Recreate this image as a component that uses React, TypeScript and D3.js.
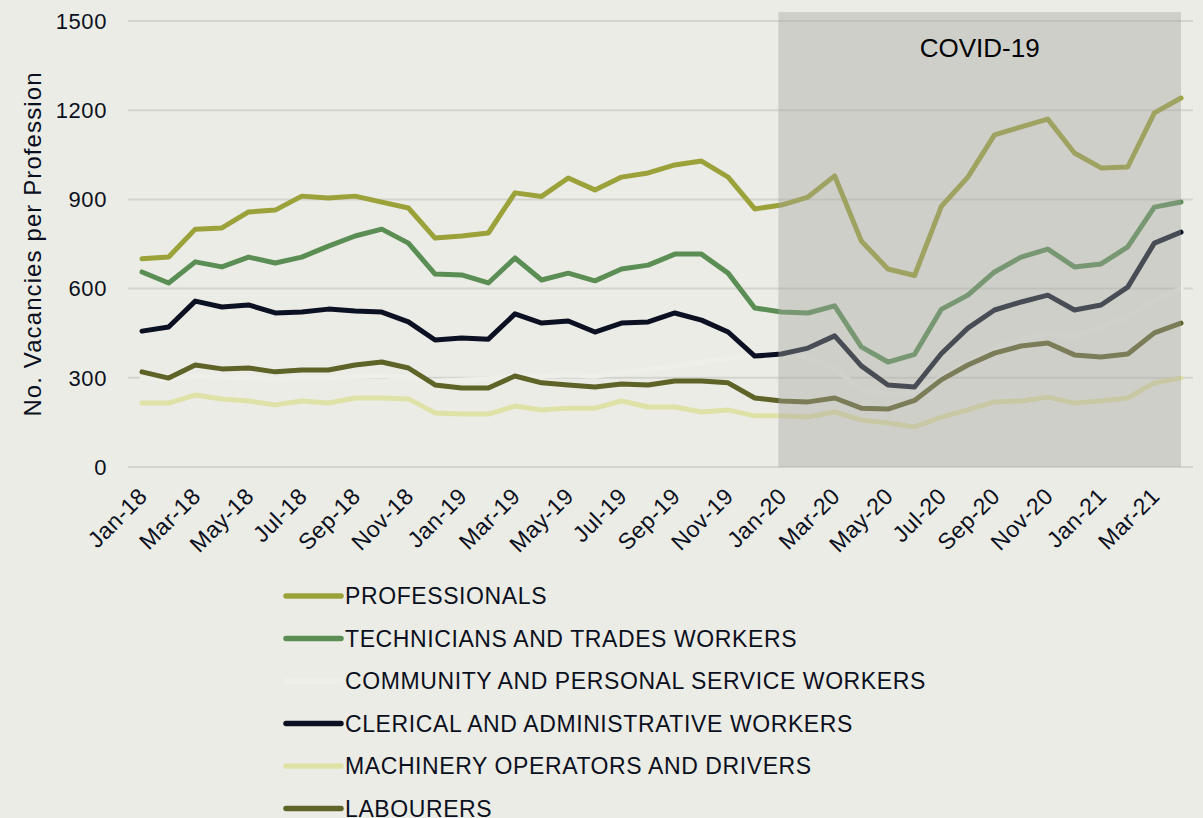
import * as d3 from 'd3';

const months = [
  "Jan-18", "Feb-18", "Mar-18", "Apr-18", "May-18", "Jun-18", "Jul-18", "Aug-18", "Sep-18", "Oct-18", "Nov-18", "Dec-18",
  "Jan-19", "Feb-19", "Mar-19", "Apr-19", "May-19", "Jun-19", "Jul-19", "Aug-19", "Sep-19", "Oct-19", "Nov-19", "Dec-19",
  "Jan-20", "Feb-20", "Mar-20", "Apr-20", "May-20", "Jun-20", "Jul-20", "Aug-20", "Sep-20", "Oct-20", "Nov-20", "Dec-20",
  "Jan-21", "Feb-21", "Mar-21", "Apr-21",
];

const professionals = [
  700, 706, 800, 804, 858, 864, 911, 905, 911, 891, 871, 770,
  777, 787, 922, 910, 972, 932, 975, 989, 1016, 1029, 975, 868,
  881, 908, 979, 760, 666, 644, 876, 975, 1117, 1144, 1170, 1056,
  1006, 1009, 1191, 1241,
];
const technicians = [
  656, 619, 690, 673, 706, 686, 706, 743, 777, 800, 753, 649,
  646, 619, 703, 629, 652, 626, 666, 679, 716, 716, 652, 535,
  521, 518, 542, 404, 353, 379, 530, 578, 656, 706, 733, 673,
  683, 740, 874, 891,
];
const community = [
  300, 295, 305, 302, 300, 296, 300, 300, 304, 308, 300, 288,
  292, 296, 308, 305, 310, 306, 318, 328, 340, 352, 366, 376,
  380, 368, 330, 262, 242, 252, 300, 350, 398, 430, 450, 440,
  470, 505, 560, 600,
];
const clerical = [
  457, 471, 558, 538, 545, 518, 521, 531, 525, 521, 488, 427,
  434, 430, 515, 484, 491, 454, 484, 488, 518, 494, 454, 373,
  380, 400, 441, 340, 276, 269, 381, 467, 528, 555, 578, 528,
  545, 605, 753, 790,
];
const machinery = [
  215, 215, 242, 229, 222, 209, 222, 215, 232, 232, 229, 182,
  178, 178, 205, 192, 198, 198, 222, 202, 202, 185, 192, 172,
  172, 168, 185, 158, 148, 135, 168, 192, 219, 222, 235, 215,
  222, 232, 283, 299,
];
const labourers = [
  320, 299, 343, 330, 333, 320, 326, 326, 343, 353, 333, 276,
  266, 266, 306, 283, 276, 269, 279, 276, 289, 289, 283, 232,
  222, 219, 232, 198, 195, 224, 293, 343, 383, 407, 417, 377,
  370, 380, 451, 484,
];

const seriesNames = [
  "PROFESSIONALS",
  "TECHNICIANS AND TRADES WORKERS",
  "COMMUNITY AND PERSONAL SERVICE WORKERS",
  "CLERICAL AND ADMINISTRATIVE WORKERS",
  "MACHINERY OPERATORS AND DRIVERS",
  "LABOURERS",
];
const seriesValues = [professionals, technicians, community, clerical, machinery, labourers];
const seriesColors = ["#9ba23a", "#5b8e55", "#efefea", "#0b1122", "#dfe2a7", "#5e6327"];

const yTicks = [0, 300, 600, 900, 1200, 1500];
const covidStart = "Jan-20";
const covidEnd = "Apr-21";
const covidTop = 1530;
const covidLabel = "COVID-19";
const yTitle = "No. Vacancies per Profession";

const width = 1203;
const height = 818;
const bg = "#ececE6";
const textColor = "#0b1020";
const font = "'Liberation Sans', Arial, sans-serif";

export default function App() {
  const x = d3.scalePoint<string>().domain(months).range([142, 1181]);
  const y = d3.scaleLinear().domain([0, 1500]).range([467, 21]);

  const line = d3.line<number>()
    .x((_, i) => x(months[i])!)
    .y(d => y(d));

  const covidX0 = x(covidStart)! - 3;
  const covidX1 = x(covidEnd)!;

  return (
    <svg width={width} height={height} viewBox={`0 0 ${width} ${height}`}
      style={{ position: 'absolute', left: 0, top: 0, background: bg, fontFamily: font }}>
      <rect x={0} y={0} width={width} height={height} fill={bg} />

      {/* grid lines and y labels */}
      {yTicks.map(t => (
        <g key={t}>
          <line x1={128} x2={1193} y1={y(t)} y2={y(t)} stroke="#d4d4cf" strokeWidth={2} />
          <text x={107} y={y(t)} dy="0.35em" textAnchor="end" fontSize={22}
            letterSpacing={0.6} fill={textColor}>{t}</text>
        </g>
      ))}

      <text transform={`translate(33,${y(750)}) rotate(-90)`} textAnchor="middle" dy="0.35em"
        fontSize={24} letterSpacing={1.1} fill={textColor}>{yTitle}</text>

      {/* series lines */}
      {seriesValues.map((vals, i) => (
        <path key={seriesNames[i]} d={line(vals)!} fill="none" stroke={seriesColors[i]}
          strokeWidth={5} strokeLinejoin="round" strokeLinecap="round" />
      ))}

      {/* COVID shading */}
      <rect x={covidX0} y={y(covidTop)} width={covidX1 - covidX0} height={y(0) - y(covidTop)}
        fill="#a5a5a1" fillOpacity={0.4} />
      <text x={(covidX0 + covidX1) / 2} y={57} textAnchor="middle" fontSize={26} fill="#000">
        {covidLabel}
      </text>

      {/* x labels */}
      {months.filter((_, i) => i % 2 === 0).map(m => (
        <text key={m} transform={`translate(${x(m)! + 1},492) rotate(-45)`} textAnchor="end" dy="0.35em"
          fontSize={23} letterSpacing={0.4} fill={textColor}>{m}</text>
      ))}

      {/* legend */}
      {seriesNames.map((name, i) => {
        const ly = 596 + i * 42.5;
        return (
          <g key={name}>
            <line x1={286} x2={341} y1={ly} y2={ly} stroke={seriesColors[i]} strokeWidth={5.5}
              strokeLinecap="round" />
            <text x={345} y={ly} dy="0.35em" fontSize={23} letterSpacing={0.6} fill={textColor}>{name}</text>
          </g>
        );
      })}
    </svg>
  );
}
